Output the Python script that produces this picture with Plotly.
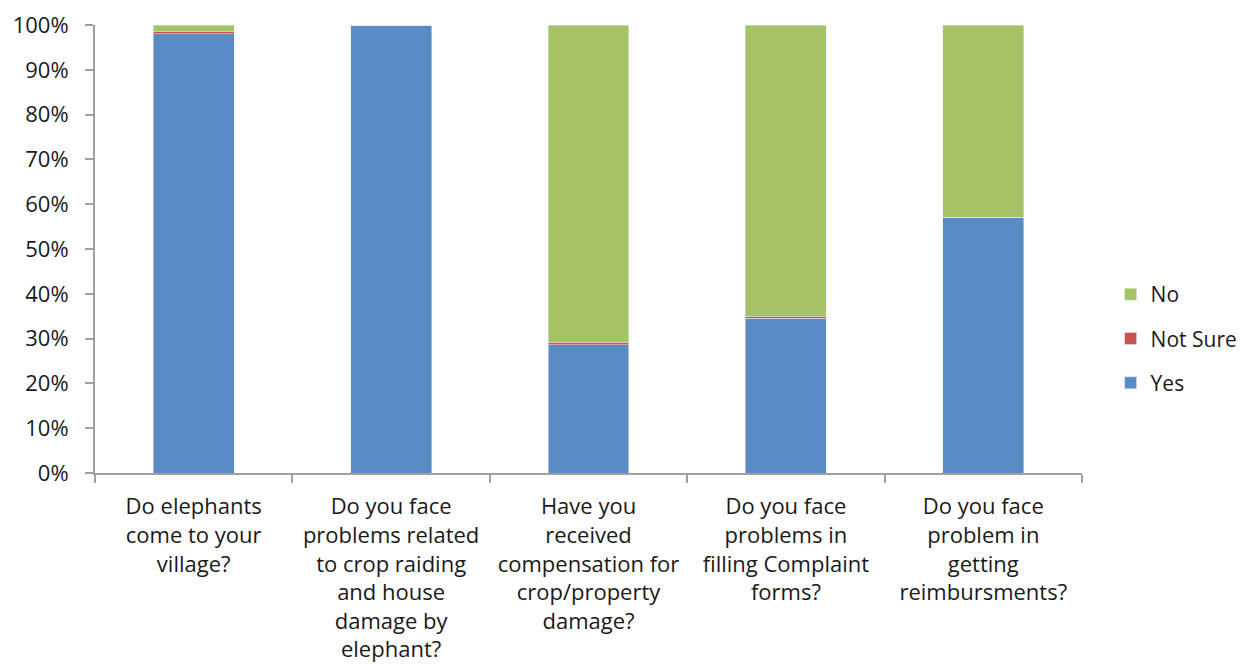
import plotly.graph_objects as go

categories = [
    "Do elephants<br>come to your<br>village?",
    "Do you face<br>problems related<br>to crop raiding<br>and house<br>damage by<br>elephant?",
    "Have you<br>received<br>compensation for<br>crop/property<br>damage?",
    "Do you face<br>problems in<br>filling Complaint<br>forms?",
    "Do you face<br>problem in<br>getting<br>reimbursments?",
]
yes_vals = [98.0, 100.0, 28.6, 34.5, 57.1]
not_sure_vals = [0.5, 0.0, 0.6, 0.5, 0.0]
no_vals = [1.5, 0.0, 70.8, 65.0, 42.9]
tick_vals = [0, 10, 20, 30, 40, 50, 60, 70, 80, 90, 100]
tick_text = [f"{v}%" for v in tick_vals]

fig = go.Figure()
fig.add_trace(go.Bar(name="Yes", x=categories, y=yes_vals, marker_color="#5B8BC5",
                     legendgroup="a", legendrank=3))
fig.add_trace(go.Bar(name="Not Sure", x=categories, y=not_sure_vals, marker_color="#C9534F",
                     legendgroup="b", legendrank=2))
fig.add_trace(go.Bar(name="No", x=categories, y=no_vals, marker_color="#A4C364",
                     legendgroup="c", legendrank=1))

font = dict(family="Open Sans, sans-serif", size=22, color="#1a1a1a")
fig.update_layout(
    barmode="stack",
    bargap=0.59,
    width=1250, height=664,
    margin=dict(l=87, r=176, t=17, b=199),
    plot_bgcolor="white", paper_bgcolor="white",
    font=font,
    legend=dict(x=1.029, y=0.30, yanchor="middle", xanchor="left",
                traceorder="grouped", font=dict(size=21), itemwidth=30,
                tracegroupgap=14),
    showlegend=True,
)
fig.update_yaxes(range=[0, 100], tickvals=tick_vals, ticktext=tick_text,
                 showgrid=False, showline=True, linecolor="#A0A0A0", linewidth=2,
                 ticks="outside", ticklen=8, tickcolor="#A0A0A0", tickwidth=2,
                 zeroline=False, ticklabelstandoff=12, automargin=False)
fig.update_xaxes(showline=True, linecolor="#A0A0A0", linewidth=2,
                 ticks="outside", ticklen=8, tickcolor="#A0A0A0", tickwidth=2,
                 tickson="boundaries", showgrid=False, tickangle=0,
                 ticklabelstandoff=13, automargin=False)
fig.write_html("out.html")
